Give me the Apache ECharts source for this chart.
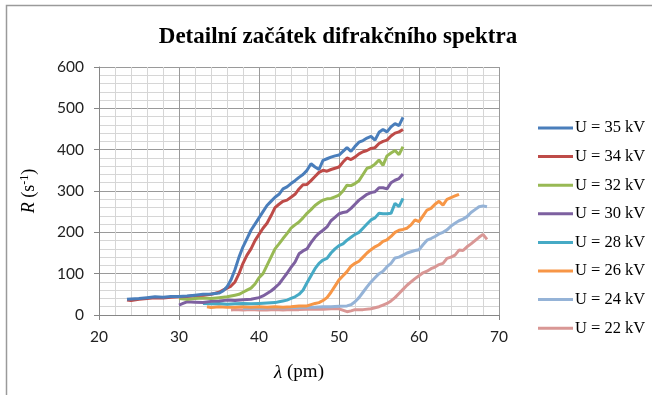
<!DOCTYPE html>
<html><head><meta charset="utf-8">
<script src="https://cdn.jsdelivr.net/npm/echarts@6/dist/echarts.min.js"></script>
<style>html,body{margin:0;padding:0;background:#fff}#c{width:652px;height:395px}</style>
</head><body><div id="c"></div>
<script>
const seriesNames = ['U = 35 kV','U = 34 kV','U = 32 kV','U = 30 kV','U = 28 kV','U = 26 kV','U = 24 kV','U = 22 kV'];
const xTicks = [20,30,40,50,60,70];
const yTicks = [0,100,200,300,400,500,600];

const u35 = [[23.5,38],[24,39],[25,40],[26,42],[27,44],[28,43],[29,45],[30,45],[31,46],[32,48],[33,50],[34,51],[35,53],[35.5,58],[36,68],[36.5,85],[37,110],[37.5,140],[38,165],[38.5,185],[39,205],[39.5,220],[40,235],[40.5,250],[41,265],[41.5,275],[42,285],[42.5,292],[43,305],[43.5,310],[44,318],[44.5,325],[45,333],[45.5,340],[46,350],[46.5,366],[47,358],[47.5,352],[48,374],[48.5,378],[49,382],[49.5,385],[50,387],[50.5,396],[51,405],[51.5,396],[52,408],[52.5,418],[53,422],[53.5,428],[54,432],[54.5,423],[55,442],[55.5,449],[56,443],[56.5,455],[57,463],[57.5,458],[58,478]];
const u34 = [[23.5,36],[24,35],[25,38],[26,40],[27,42],[28,41],[29,43],[30,44],[31,45],[32,47],[33,48],[34,50],[35,55],[35.5,60],[36,65],[36.5,70],[37,80],[37.5,100],[38,125],[38.5,145],[39,160],[39.5,180],[40,195],[40.5,210],[41,222],[41.5,240],[42,260],[42.5,268],[43,275],[43.5,278],[44,285],[44.5,292],[45,305],[45.5,315],[46,316],[46.5,325],[47,335],[47.5,345],[48,350],[48.5,348],[49,352],[49.5,355],[50,358],[50.5,370],[51,380],[51.5,376],[52,382],[52.5,390],[53,395],[53.5,398],[54,403],[54.5,405],[55,415],[55.5,420],[56,423],[56.5,433],[57,440],[57.5,443],[58,449]];
const u32 = [[30,40],[31,38],[32,40],[33,41],[34,40],[35,42],[36,44],[36.5,46],[37,48],[37.5,50],[38,55],[38.5,60],[39,65],[39.5,75],[40,90],[40.5,100],[41,120],[41.5,140],[42,160],[42.5,172],[43,185],[43.5,197],[44,210],[44.5,218],[45,225],[45.5,235],[46,246],[46.5,255],[47,265],[47.5,272],[48,278],[48.5,281],[49,282],[49.5,286],[50,290],[50.5,300],[51,314],[51.5,313],[52,318],[52.5,325],[53,340],[53.5,355],[54,358],[54.5,365],[55,375],[55.5,362],[56,385],[56.5,392],[57,398],[57.5,388],[58,407]];
const u30 = [[30,24],[30.5,28],[31,32],[32,31],[33,30],[34,33],[35,34],[36,36],[37,35],[38,37],[39,38],[40,42],[40.5,46],[41,52],[41.5,58],[42,66],[42.5,75],[43,88],[43.5,101],[44,115],[44.5,128],[45,148],[45.5,155],[46,160],[46.5,175],[47,188],[47.5,198],[48,205],[48.5,213],[49,228],[49.5,236],[50,245],[50.5,248],[51,250],[51.5,258],[52,268],[52.5,278],[53,285],[53.5,292],[54,296],[54.5,298],[55,308],[55.5,308],[56,305],[56.5,320],[57,326],[57.5,330],[58,341]];
const u28 = [[33,28],[34,27],[35,28],[36,26],[37,27],[38,28],[39,27],[40,28],[41,29],[42,30],[42.5,32],[43,34],[43.5,36],[44,40],[44.5,44],[45,50],[45.5,60],[46,78],[46.5,95],[47,112],[47.5,125],[48,133],[48.5,137],[49,150],[49.5,160],[50,168],[50.5,172],[51,181],[51.5,188],[52,195],[52.5,200],[53,210],[53.5,220],[54,230],[54.5,235],[55,246],[55.5,245],[56,245],[56.5,246],[57,270],[57.5,262],[58,282]];
const u26 = [[33.5,20],[34,18],[35,20],[36,19],[37,19],[38,20],[39,19],[40,20],[41,19],[42,20],[43,19],[44,20],[45,22],[46,22],[46.5,25],[47,28],[47.5,30],[48,35],[48.5,42],[49,55],[49.5,70],[50,85],[50.5,95],[51,105],[51.5,118],[52,125],[52.5,130],[53,140],[53.5,150],[54,158],[54.5,165],[55,170],[55.5,178],[56,182],[56.5,190],[57,200],[57.5,205],[58,207],[58.5,210],[59,218],[59.5,230],[60,226],[60.5,240],[61,254],[61.5,258],[62,268],[62.5,275],[63,266],[63.5,280],[64,284],[64.5,288],[65,292]];
const u24 = [[38,16],[39,17],[40,16],[41,17],[42,18],[43,17],[44,18],[45,18],[46,19],[47,19],[48,20],[49,20],[50,21],[51,22],[51.5,25],[52,32],[52.5,42],[53,55],[53.5,68],[54,80],[54.5,90],[55,100],[55.5,106],[56,117],[56.5,125],[57,138],[57.5,140],[58,145],[58.5,150],[59,153],[59.5,156],[60,158],[60.5,170],[61,181],[61.5,185],[62,190],[62.5,196],[63,200],[63.5,206],[64,215],[64.5,222],[65,228],[65.5,232],[66,238],[66.5,248],[67,255],[67.5,262],[68,264],[68.5,262]];
const u22 = [[36.5,12],[37,13],[38,12],[39,13],[40,12],[41,12],[42,13],[43,12],[44,13],[45,13],[46,14],[47,14],[48,14],[49,15],[50,15],[51,8],[51.5,10],[52,13],[53,13],[54,15],[55,20],[55.5,24],[56,28],[56.5,34],[57,42],[57.5,52],[58,62],[58.5,72],[59,80],[59.5,88],[60,95],[60.5,102],[61,106],[61.5,112],[62,116],[62.5,122],[63,125],[63.5,137],[64,140],[64.5,145],[65,157],[65.5,156],[66,165],[66.5,172],[67,180],[67.5,188],[68,195],[68.5,183]];

const allData = [u35,u34,u32,u30,u28,u26,u24,u22];
const colors = ['#4A7EBB','#BE4B48','#98B954','#7D60A0','#46AAC5','#F79646','#95B3D7','#D99795'];

const chart = echarts.init(document.getElementById('c'), null, {renderer:'canvas'});
const axisFont = {fontFamily:'Lato', fontSize:15.5, color:'#222'};
chart.setOption({
  animation:false,
  color: colors,
  title:{text:'Detailní začátek difrakčního spektra', left:333, top:21, textAlign:'center',
    textStyle:{fontFamily:'Liberation Serif', fontWeight:'bold', fontSize:23, color:'#000'}},
  graphic:[{type:'rect', shape:{x:6.5,y:5.5,width:800,height:600}, style:{fill:'none', stroke:'#9a9a9a', lineWidth:1.5}, silent:true}],
  grid:{left:99, right:153, top:67, bottom:80},
  legend:{orient:'vertical', left:533, top:113, icon:'rect', itemWidth:35, itemHeight:3, itemGap:8.6,
    data: seriesNames,
    textStyle:{fontFamily:'Liberation Serif', fontSize:16.5, color:'#000', lineHeight:20, padding:[0,0,0,-3]}},
  xAxis:{type:'value', min:xTicks[0], max:xTicks[xTicks.length-1], interval:10,
    name:'{i|λ} (pm)', nameLocation:'middle', nameGap:48,
    nameTextStyle:{fontFamily:'Liberation Serif', fontSize:19, color:'#000', rich:{i:{fontFamily:'Liberation Serif', fontStyle:'italic', fontSize:19, color:'#000'}}},
    axisLine:{lineStyle:{color:'#868686', width:1}}, axisTick:{show:true, length:5, lineStyle:{color:'#868686'}},
    axisLabel:Object.assign({margin:14}, axisFont),
    splitLine:{show:true, lineStyle:{color:'#9a9a9a', width:1}},
    minorTick:{show:true, splitNumber:5, length:0},
    minorSplitLine:{show:true, lineStyle:{color:'#d6d6d6', width:1}}},
  yAxis:{type:'value', min:yTicks[0], max:yTicks[yTicks.length-1], interval:100,
    name:'{i|R} (s{s|-1})', nameLocation:'middle', nameGap:60, nameRotate:90,
    nameTextStyle:{fontFamily:'Liberation Serif', fontSize:18, color:'#000', rich:{i:{fontFamily:'Liberation Serif', fontStyle:'italic', fontSize:18, color:'#000'}, s:{fontFamily:'Liberation Serif', fontSize:12, color:'#000', verticalAlign:'top', padding:[0,0,8,0]}}},
    axisLine:{show:true, lineStyle:{color:'#868686', width:1}}, axisTick:{show:true, length:5, lineStyle:{color:'#868686'}},
    axisLabel:Object.assign({margin:15}, axisFont),
    splitLine:{show:true, lineStyle:{color:'#9a9a9a', width:1}},
    minorTick:{show:true, splitNumber:5, length:0},
    minorSplitLine:{show:true, lineStyle:{color:'#d6d6d6', width:1}}},
  series: allData.map((d,i)=>({name:seriesNames[i], type:'line', data:d, showSymbol:false, symbol:'none',
    lineStyle:{width:3, color:colors[i]}, itemStyle:{color:colors[i]}, z:10-i}))
});
</script></body></html>
